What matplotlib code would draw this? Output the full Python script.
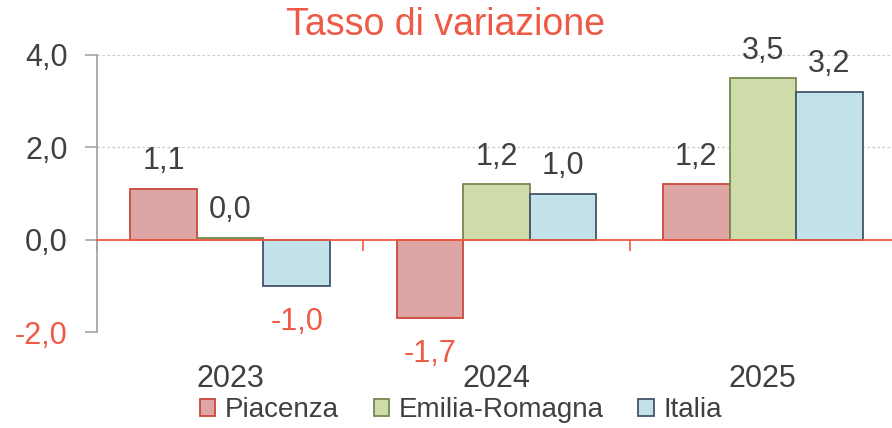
import numpy as np
import matplotlib
matplotlib.use("Agg")
import matplotlib.pyplot as plt
from matplotlib.ticker import FixedLocator

plt.rcParams["font.family"] = ["Liberation Sans", "DejaVu Sans"]

# data
years = ["2023", "2024", "2025"]
series_names = ["Piacenza", "Emilia-Romagna", "Italia"]
piacenza = [1.1, -1.7, 1.2]
emilia = [0.04, 1.2, 3.5]
italia = [-1.0, 1.0, 3.2]
y_ticks = [-2.0, 0.0, 2.0, 4.0]

RED = "#EE5A45"
DARK = "#404040"
fills = ["#DDA6A4", "#CDDCA9", "#C2E1E8"]
edges = ["#C9483A", "#77874F", "#44546A"]

fig = plt.figure(figsize=(8.92, 4.28), dpi=100)
W, H = 892, 428
ax = fig.add_axes([97 / W, (428 - 332) / H, (896 - 97) / W, (332 - 55) / H])

x = np.arange(len(years))
width = 0.25
values = [piacenza, emilia, italia]
for i, (name, vals) in enumerate(zip(series_names, values)):
    pos = x + (i - 1) * width
    ax.bar(pos, vals, width, color=fills[i], edgecolor=edges[i],
           linewidth=1.3, label=name, zorder=3)
    for px, v in zip(pos, vals):
        lab = f"{v:.1f}".replace(".", ",")
        if v < 0:
            ax.annotate(lab, (px, v), xytext=(0, -15), textcoords="offset points",
                        ha="center", va="top", fontsize=22, color=RED)
        else:
            ax.annotate(lab, (px, v), xytext=(0, 14), textcoords="offset points",
                        ha="center", va="baseline", fontsize=22, color=DARK)

ax.set_xlim(-0.5, 2.5)
ax.set_ylim(-2, 4)
ax.set_yticks(y_ticks)
ax.set_yticklabels([f"{t:.1f}".replace(".", ",") for t in y_ticks], fontsize=22)
for t, lbl in zip(y_ticks, ax.get_yticklabels()):
    lbl.set_color(RED if t < 0 else DARK)
ax.tick_params(axis="y", length=9, width=1.2, color="#A6A6A6", pad=12)

for g in [-2, 2, 4]:
    ax.axhline(g, color="#C8C8C8", lw=0.9, ls=(0, (2, 2)), zorder=1)

for s in ["top", "right"]:
    ax.spines[s].set_visible(False)
ax.spines["left"].set_color("#A6A6A6")
ax.spines["left"].set_linewidth(1.3)
ax.spines["bottom"].set_position(("data", 0))
ax.spines["bottom"].set_color(RED)
ax.spines["bottom"].set_linewidth(1.3)
ax.spines["bottom"].set_zorder(4)

ax.xaxis.set_major_locator(FixedLocator([-0.5, 0.5, 1.5]))
ax.set_xticklabels([])
ax.tick_params(axis="x", length=8, width=1.2, color=RED, direction="out")

for xi, yr in zip(x, years):
    ax.text(xi, -0.17, yr, transform=ax.get_xaxis_transform(), ha="center",
            va="center", fontsize=22, color=DARK)

fig.text(0.5, 1 - 25 / H, "Tasso di variazione", ha="center", va="center",
         fontsize=27, color=RED)

fig.legend(loc="center", bbox_to_anchor=(461 / W, 1 - 410 / H), ncol=3,
           frameon=False, fontsize=20, handlelength=0.55, handleheight=0.55,
           handletextpad=0.35, columnspacing=1.25, labelcolor=DARK,
           borderaxespad=0)

fig.savefig("out.png", dpi=100)
